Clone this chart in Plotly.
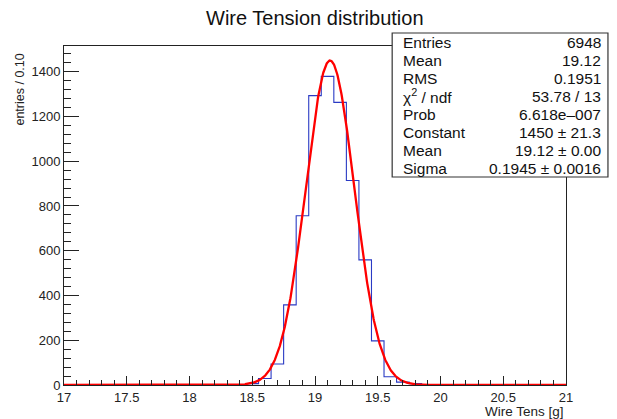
import numpy as np
import plotly.graph_objects as go

# ---- data ----
bin_centers = [18.4, 18.5, 18.6, 18.7, 18.8, 18.9, 19.0, 19.1, 19.2, 19.3, 19.4, 19.5, 19.6, 19.7, 19.8, 19.9]
bin_counts = [1, 6, 29, 94, 358, 756, 1293, 1379, 1263, 914, 559, 197, 37, 13, 6, 2]
x_min, x_max, bin_width = 17.0, 21.0, 0.1

stats_labels = ["Entries", "Mean", "RMS", "χ<sup>2</sup> / ndf", "Prob", "Constant", "Mean", "Sigma"]
stats_values = ["6948", "19.12", "0.1951", "53.78 / 13", "6.618e\u2013007", "1450 ± 21.3", "19.12 ± 0.00", "0.1945 ± 0.0016"]

fit_constant, fit_mean, fit_sigma = 1450.0, 19.12, 0.1945

x_ticks = [17, 17.5, 18, 18.5, 19, 19.5, 20, 20.5, 21]
x_tick_text = ["17", "17.5", "18", "18.5", "19", "19.5", "20", "20.5", "21"]
y_ticks = [0, 200, 400, 600, 800, 1000, 1200, 1400]

# full histogram over the axis range (empty bins are zero)
n_bins = int(round((x_max - x_min) / bin_width))
all_centers = np.round(x_min + bin_width * np.arange(n_bins + 1), 2)
lookup = dict(zip(bin_centers, bin_counts))
all_counts = [lookup.get(float(c), 0) for c in all_centers]

# fitted gaussian
fx = np.linspace(x_min, x_max, 1201)
fy = fit_constant * np.exp(-0.5 * ((fx - fit_mean) / fit_sigma) ** 2)

W, H = 617, 419
L, R, T, B = 63.5, 566, 46, 385
pw, ph = R - L, B - T


def px(x):
    return (x - L) / pw


def py(y):
    return (B - y) / ph


FONT = "Liberation Sans, Arial, Helvetica, sans-serif"
fig = go.Figure()
fig.add_trace(go.Scatter(x=all_centers, y=all_counts, mode="lines", line=dict(shape="hvh", color="#2a3ac4", width=1.1),
                         hoverinfo="skip", showlegend=False))
fig.add_trace(go.Scatter(x=fx, y=fy, mode="lines", line=dict(color="#ff0000", width=2.3), hoverinfo="skip",
                         showlegend=False))

axis_common = dict(showgrid=False, zeroline=False, showline=True, linecolor="#222222", linewidth=1, mirror=True,
                   ticks="inside", tickcolor="#222222", tickfont=dict(family=FONT, size=13, color="#222222"))
fig.update_xaxes(range=[x_min, x_max], tickvals=x_ticks, ticktext=x_tick_text, ticklen=9,
                 minor=dict(dtick=0.1, ticks="inside", ticklen=5, tickcolor="#222222"), **axis_common)
fig.update_yaxes(range=[0, (B - T) / ((B - 71.7) / 1400)], tickvals=y_ticks, ticklen=15,
                 minor=dict(dtick=40, ticks="inside", ticklen=7, tickcolor="#222222"), **axis_common)

# stats box
bx0, bx1, by0, by1 = 392, 608, 33, 177
fig.add_shape(type="rect", xref="paper", yref="paper", x0=px(bx0), x1=px(bx1), y0=py(by1), y1=py(by0),
              line=dict(color="#333333", width=1.2), fillcolor="white", layer="above")
row_h = (by1 - by0) / len(stats_labels)
ann = []
for i, (lab, val) in enumerate(zip(stats_labels, stats_values)):
    yc = by0 + row_h * (i + 0.5)
    ann.append(dict(x=px(401), y=py(yc), xref="paper", yref="paper", text=lab, showarrow=False,
                    xanchor="left", yanchor="middle", font=dict(family=FONT, size=15.5, color="#111111")))
    ann.append(dict(x=px(603), y=py(yc), xref="paper", yref="paper", text=val, showarrow=False,
                    xanchor="right", yanchor="middle", font=dict(family=FONT, size=15.5, color="#111111")))

ann.append(dict(x=px(19), y=py(52), xref="paper", yref="paper", text="entries / 0.10", textangle=-90,
                showarrow=False, xanchor="center", yanchor="top", font=dict(family=FONT, size=12.5, color="#222222")))
ann.append(dict(x=px(566), y=py(411), xref="paper", yref="paper", text="Wire Tens [g]", showarrow=False,
                xanchor="right", yanchor="middle", font=dict(family=FONT, size=13.5, color="#222222")))
ann.append(dict(x=px(315), y=py(18), xref="paper", yref="paper", text="Wire Tension distribution", showarrow=False,
                xanchor="center", yanchor="middle", font=dict(family=FONT, size=20, color="#111111")))

fig.update_layout(width=W, height=H, margin=dict(l=L, r=W - R, t=T, b=H - B, pad=0), paper_bgcolor="white",
                  plot_bgcolor="white", annotations=ann, showlegend=False)

fig.write_html("out.html", config={"displayModeBar": False},
               post_script="document.body.style.margin='0';document.body.style.overflow='hidden';")
